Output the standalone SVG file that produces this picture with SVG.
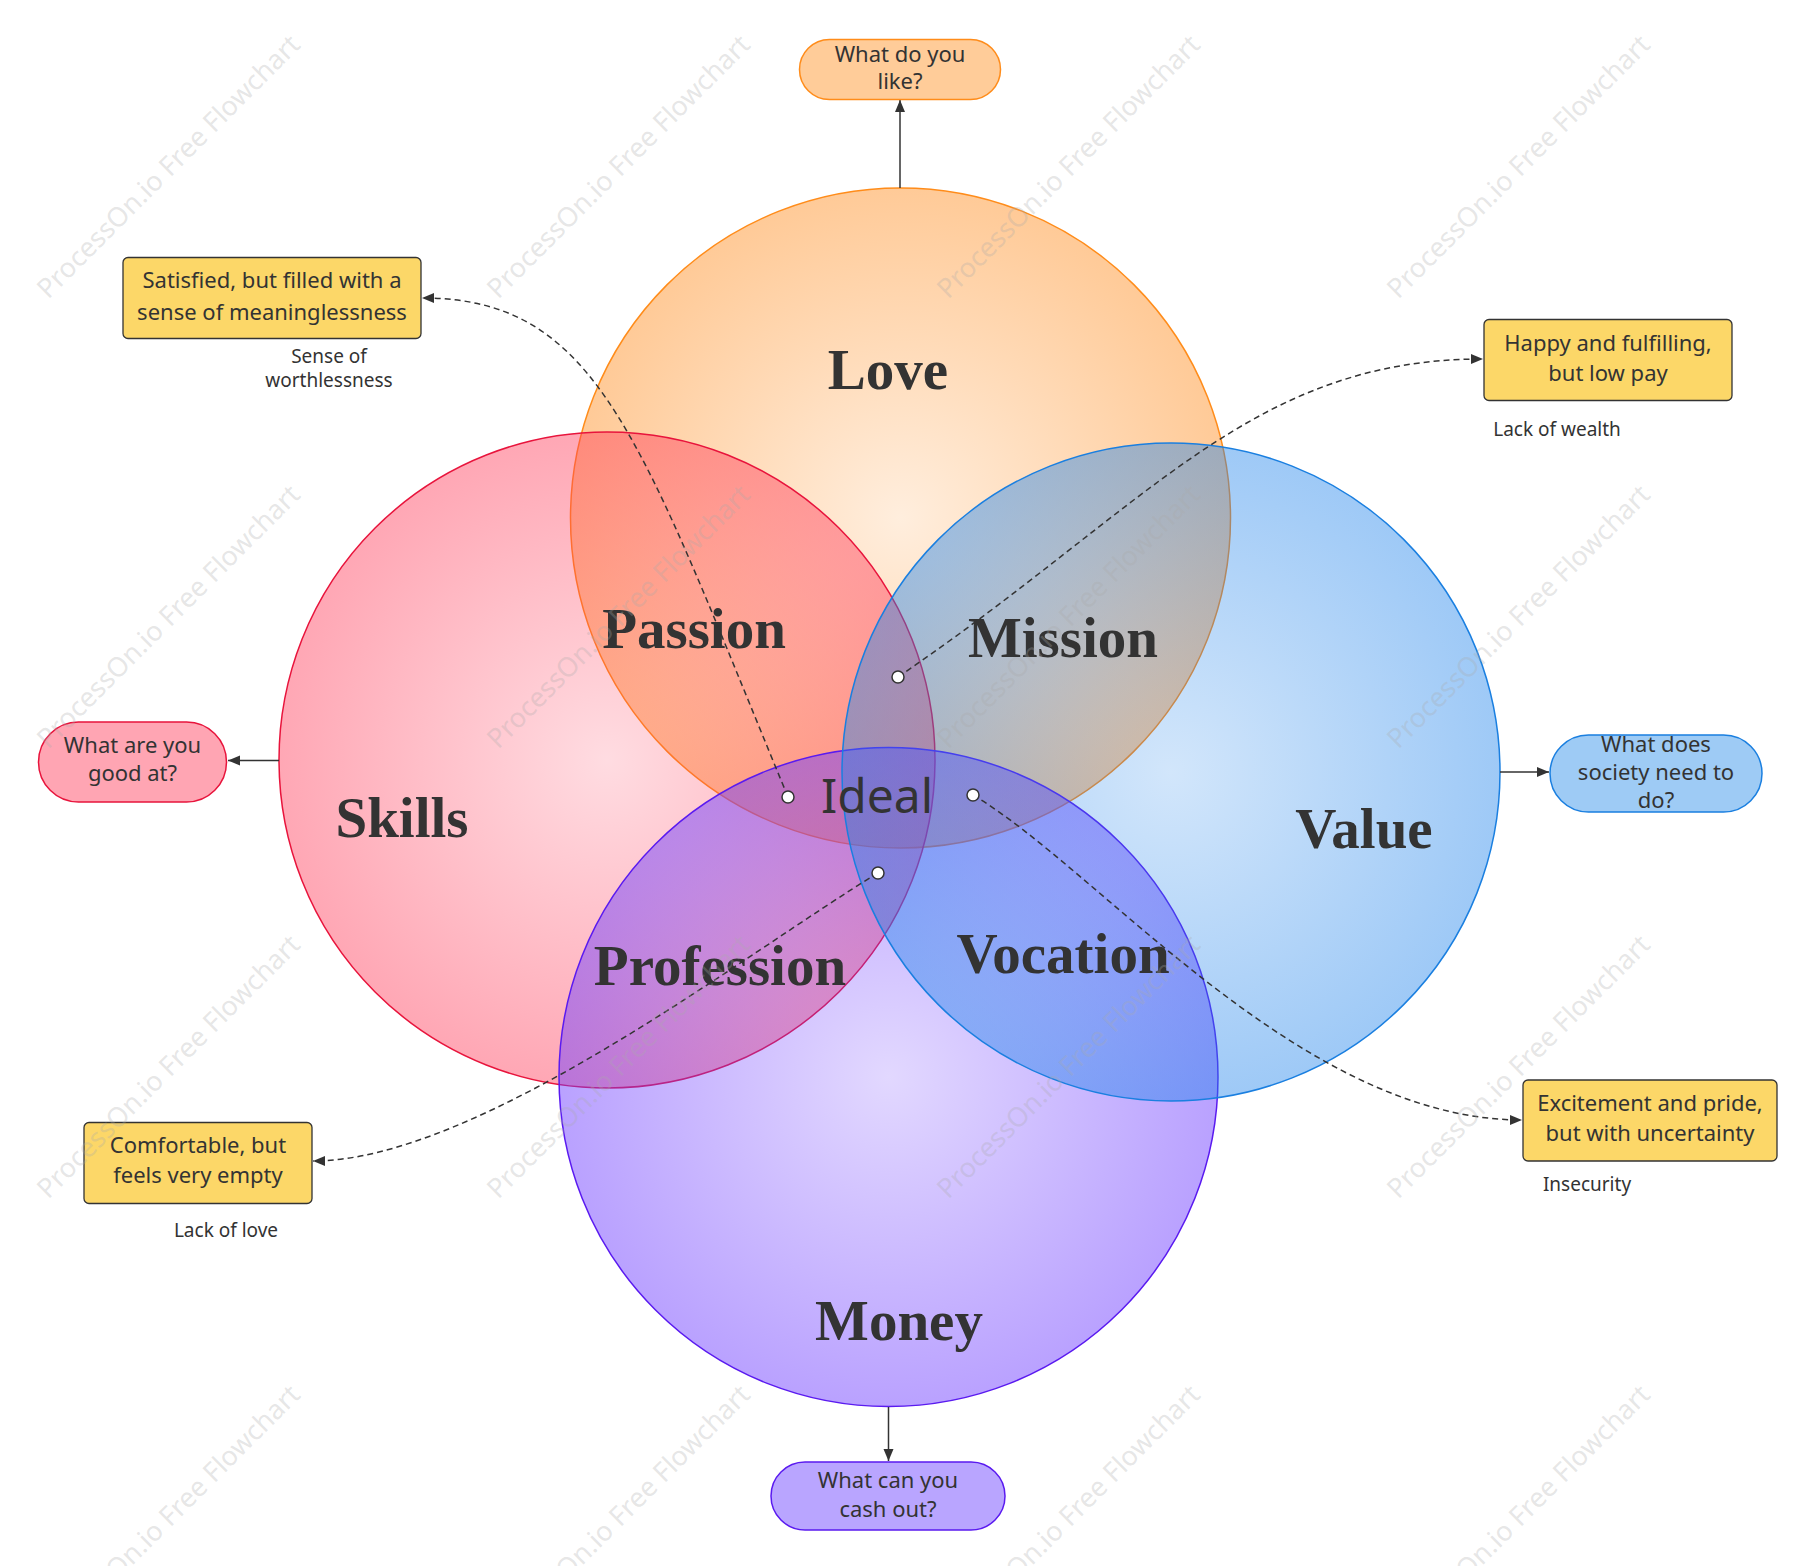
<svg xmlns="http://www.w3.org/2000/svg" width="1812" height="1566" viewBox="0 0 1812 1566">
<style>
.big{font-family:"Liberation Serif","DejaVu Serif",serif;font-weight:bold;font-size:57px;fill:#333;text-anchor:middle}
.ideal{font-family:"Noto Sans","Open Sans",sans-serif;font-size:48px;fill:#333;text-anchor:middle}
.bt{font-family:"Noto Sans","Open Sans",sans-serif;font-size:22px;fill:#333;text-anchor:middle}
.sm{font-family:"Noto Sans","Open Sans",sans-serif;font-size:19px;fill:#333;text-anchor:middle}
.note{fill:#FCD768;stroke:#333;stroke-width:1.3}
.solid{fill:none;stroke:#333;stroke-width:1.5}
.dash{fill:none;stroke:#333;stroke-width:1.5;stroke-dasharray:6 4}
.dot{fill:#fff;stroke:#333;stroke-width:1.5}
.wm{font-family:"Noto Sans","Open Sans",sans-serif;font-size:27px;fill:#aaa;fill-opacity:0.3;text-anchor:middle}
</style>
<defs>
<radialGradient id="gLove"><stop offset="0" stop-color="#FF8C1E" stop-opacity="0.15"/><stop offset="1" stop-color="#FF8C1E" stop-opacity="0.46"/></radialGradient>
<radialGradient id="gSkills"><stop offset="0" stop-color="#FF3C5A" stop-opacity="0.18"/><stop offset="1" stop-color="#FF3C5A" stop-opacity="0.45"/></radialGradient>
<radialGradient id="gMoney"><stop offset="0" stop-color="#6E3CFF" stop-opacity="0.2"/><stop offset="1" stop-color="#6E3CFF" stop-opacity="0.48"/></radialGradient>
<radialGradient id="gValue"><stop offset="0" stop-color="#1E82EB" stop-opacity="0.2"/><stop offset="1" stop-color="#1E82EB" stop-opacity="0.43"/></radialGradient>
<marker id="arr" markerUnits="userSpaceOnUse" markerWidth="14" markerHeight="12" refX="12" refY="5" orient="auto"><path d="M0,0 L12,5 L0,10 z" fill="#333"/></marker>
</defs>
<rect width="1812" height="1566" fill="#fff"/>

<g id="love"><circle cx="900.5" cy="518" r="330" fill="url(#gLove)" stroke="#FF8C1A" stroke-width="1.5"/></g>
<g id="skills"><circle cx="607" cy="760" r="328" fill="url(#gSkills)" stroke="#E8143C" stroke-width="1.5"/></g>
<g id="money"><circle cx="888.5" cy="1077" r="329.5" fill="url(#gMoney)" stroke="#5A1AF0" stroke-width="1.5"/></g>
<g id="value"><circle cx="1171" cy="772" r="329" fill="url(#gValue)" stroke="#1A7FE0" stroke-width="1.5"/></g>

<g id="labels">
<text class="big" x="888" y="389">Love</text>
<text class="big" x="694" y="648">Passion</text>
<text class="big" x="1063" y="657">Mission</text>
<text class="big" x="402" y="837">Skills</text>
<text class="big" x="1364" y="848">Value</text>
<text class="big" x="720" y="985">Profession</text>
<text class="big" x="1063" y="973">Vocation</text>
<text class="big" x="899" y="1340">Money</text>
<text class="ideal" x="877" y="813">Ideal</text>
</g>

<g id="connectors">
<line class="solid" x1="900" y1="188" x2="900" y2="100" marker-end="url(#arr)"/>
<line class="solid" x1="279" y1="760.5" x2="228" y2="760.5" marker-end="url(#arr)"/>
<line class="solid" x1="1500" y1="772" x2="1549" y2="772" marker-end="url(#arr)"/>
<line class="solid" x1="888.5" y1="1407" x2="888.5" y2="1461" marker-end="url(#arr)"/>
<path class="dash" d="M788,797 C640,440 600,298 422,298" marker-end="url(#arr)"/>
<path class="dash" d="M898,677 C1148,507 1250,359 1483,359" marker-end="url(#arr)"/>
<path class="dash" d="M973,795 C1100,870 1300,1120 1522,1120" marker-end="url(#arr)"/>
<path class="dash" d="M878,873 C750,950 480,1161 313,1161" marker-end="url(#arr)"/>
<circle class="dot" cx="788" cy="797" r="6"/>
<circle class="dot" cx="898" cy="677" r="6"/>
<circle class="dot" cx="973" cy="795" r="6"/>
<circle class="dot" cx="878" cy="873" r="6"/>
</g>

<g id="q-like">
<rect x="799.5" y="39.5" width="201" height="60" rx="30" fill="#FFCC99" stroke="#FF8C1A" stroke-width="1.5"/>
<text class="bt" x="900" y="62">What do you</text>
<text class="bt" x="900" y="89">like?</text>
</g>
<g id="q-good">
<rect x="38.5" y="722" width="188" height="80" rx="40" fill="#FFA5B3" stroke="#E8143C" stroke-width="1.5"/>
<text class="bt" x="132.5" y="753">What are you</text>
<text class="bt" x="132.5" y="781">good at?</text>
</g>
<g id="q-society">
<rect x="1550" y="735" width="212" height="77" rx="38.5" fill="#9ECBF5" stroke="#1A7FE0" stroke-width="1.5"/>
<text class="bt" x="1656" y="752">What does</text>
<text class="bt" x="1656" y="780">society need to</text>
<text class="bt" x="1656" y="808">do?</text>
</g>
<g id="q-cash">
<rect x="771" y="1462" width="234" height="68" rx="34" fill="#B9A5FF" stroke="#5A1AF0" stroke-width="1.5"/>
<text class="bt" x="888" y="1488">What can you</text>
<text class="bt" x="888" y="1517">cash out?</text>
</g>

<g id="n-satisfied">
<rect class="note" x="123" y="257.5" width="298" height="81" rx="5"/>
<text class="bt" x="272" y="288">Satisfied, but filled with a</text>
<text class="bt" x="272" y="320">sense of meaninglessness</text>
<text class="sm" x="329" y="363">Sense of</text>
<text class="sm" x="329" y="387">worthlessness</text>
</g>
<g id="n-happy">
<rect class="note" x="1484" y="319.5" width="248" height="81" rx="5"/>
<text class="bt" x="1608" y="351">Happy and fulfilling,</text>
<text class="bt" x="1608" y="381">but low pay</text>
<text class="sm" x="1557" y="436">Lack of wealth</text>
</g>
<g id="n-comfortable">
<rect class="note" x="84" y="1122.5" width="228" height="81" rx="5"/>
<text class="bt" x="198" y="1153">Comfortable, but</text>
<text class="bt" x="198" y="1183">feels very empty</text>
<text class="sm" x="226" y="1237">Lack of love</text>
</g>
<g id="n-excitement">
<rect class="note" x="1523" y="1080" width="254" height="81" rx="5"/>
<text class="bt" x="1650" y="1111">Excitement and pride,</text>
<text class="bt" x="1650" y="1141">but with uncertainty</text>
<text class="sm" x="1587" y="1191">Insecurity</text>
</g>

<g id="watermark">
<text class="wm" transform="translate(175,173) rotate(-45)">ProcessOn.io Free Flowchart</text>
<text class="wm" transform="translate(625,173) rotate(-45)">ProcessOn.io Free Flowchart</text>
<text class="wm" transform="translate(1075,173) rotate(-45)">ProcessOn.io Free Flowchart</text>
<text class="wm" transform="translate(1525,173) rotate(-45)">ProcessOn.io Free Flowchart</text>
<text class="wm" transform="translate(175,623) rotate(-45)">ProcessOn.io Free Flowchart</text>
<text class="wm" transform="translate(625,623) rotate(-45)">ProcessOn.io Free Flowchart</text>
<text class="wm" transform="translate(1075,623) rotate(-45)">ProcessOn.io Free Flowchart</text>
<text class="wm" transform="translate(1525,623) rotate(-45)">ProcessOn.io Free Flowchart</text>
<text class="wm" transform="translate(175,1073) rotate(-45)">ProcessOn.io Free Flowchart</text>
<text class="wm" transform="translate(625,1073) rotate(-45)">ProcessOn.io Free Flowchart</text>
<text class="wm" transform="translate(1075,1073) rotate(-45)">ProcessOn.io Free Flowchart</text>
<text class="wm" transform="translate(1525,1073) rotate(-45)">ProcessOn.io Free Flowchart</text>
<text class="wm" transform="translate(175,1523) rotate(-45)">ProcessOn.io Free Flowchart</text>
<text class="wm" transform="translate(625,1523) rotate(-45)">ProcessOn.io Free Flowchart</text>
<text class="wm" transform="translate(1075,1523) rotate(-45)">ProcessOn.io Free Flowchart</text>
<text class="wm" transform="translate(1525,1523) rotate(-45)">ProcessOn.io Free Flowchart</text>
</g>
</svg>
